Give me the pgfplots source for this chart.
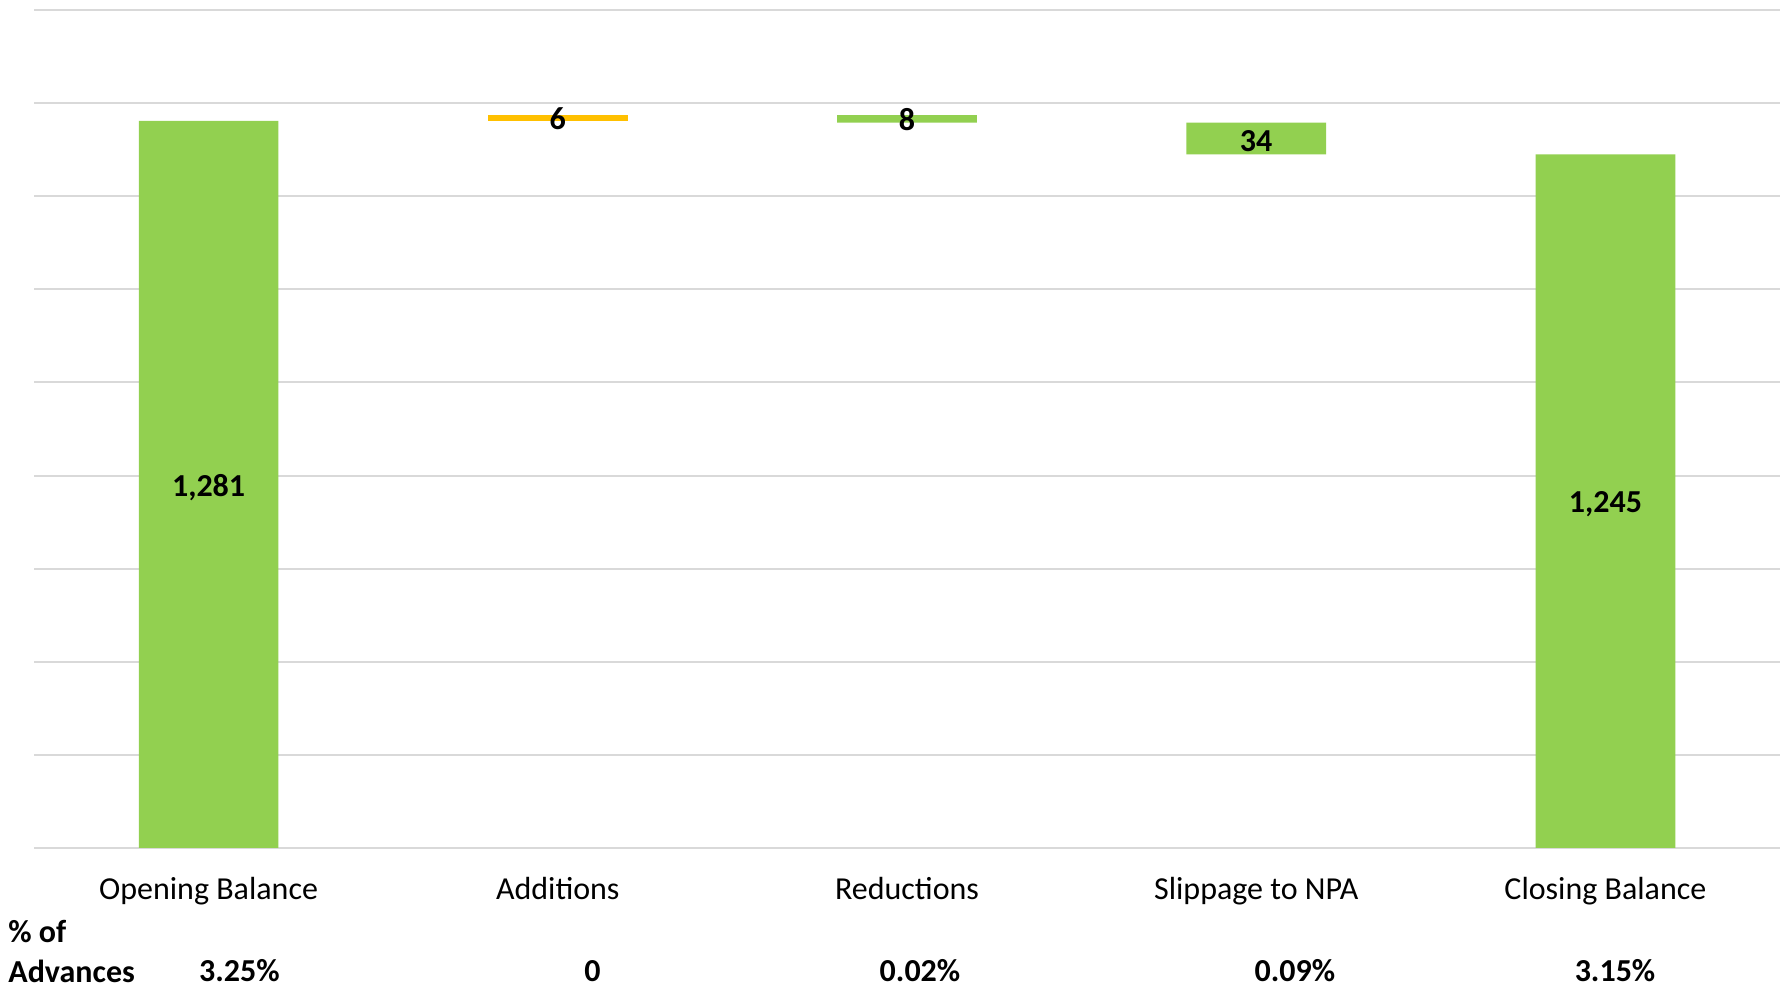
\documentclass[border=0pt]{standalone}
\usepackage{pgfplots}
\pgfplotsset{compat=1.18}
\usepackage{fontspec}
\setmainfont{Carlito}
\definecolor{xgreen}{HTML}{92D050}
\definecolor{xorange}{HTML}{FFC000}
\definecolor{xgrid}{HTML}{D9D9D9}
\begin{document}
\fontsize{16pt}{19pt}\selectfont
\begin{tikzpicture}
\useasboundingbox[fill=white] (0,0) rectangle (893.5pt,497pt);
\begin{axis}[at={(17pt,73pt)}, anchor=south west,
  width=873pt, height=419pt, scale only axis,
  ybar stacked, bar width=0.4,
  xmin=-0.5, xmax=4.5, ymin=500, ymax=1400,
  ytick={500,600,...,1400}, yticklabels={},
  xtick={0,1,2,3,4},
  xticklabels={Opening Balance, Additions, Reductions, Slippage to NPA, Closing Balance},
  xticklabel style={anchor=center, text height=11.5pt, text depth=3.5pt, yshift=-21.8pt, font=\fontsize{16pt}{19pt}\selectfont},
  axis line style={draw=none}, major tick length=0pt,
  ymajorgrids, grid style={xgrid, line width=1pt},
]
\addplot[fill=none, draw=none] coordinates {(0,0) (1,1281) (2,1279) (3,1245) (4,0)};
\addplot[fill=xgreen, draw=none] coordinates {(0,1281) (1,0) (2,8) (3,34) (4,1245)};
\addplot[fill=xorange, draw=none] coordinates {(0,0) (1,6) (2,0) (3,0) (4,0)};
\coordinate (l0) at (axis cs:0,890.5);
\coordinate (l1) at (axis cs:1,1283.5);
\coordinate (l2) at (axis cs:2,1282.5);
\coordinate (l3) at (axis cs:3,1262);
\coordinate (l4) at (axis cs:4,872.5);
\end{axis}
\begin{scope}[every node/.style={font=\bfseries\fontsize{16pt}{19pt}\selectfont}]
\node[yshift=-1.5pt] at (l0) {1,281};
\node at (l1) {6};
\node at (l2) {8};
\node[yshift=-1.2pt] at (l3) {34};
\node[yshift=-1.5pt] at (l4) {1,245};
\end{scope}
\begin{scope}[every node/.style={font=\bfseries\fontsize{16pt}{19pt}\selectfont, inner sep=0pt}]
\node[anchor=west] at (4pt,31pt) {\% of};
\node[anchor=west] at (4pt,11.5pt) {Advances};
\node at (119.7pt,11.5pt) {3.25\%};
\node at (296.3pt,11.5pt) {0};
\node at (460pt,11.5pt) {0.02\%};
\node at (647.4pt,11.5pt) {0.09\%};
\node at (807.5pt,11.5pt) {3.15\%};
\end{scope}
\end{tikzpicture}
\end{document}
